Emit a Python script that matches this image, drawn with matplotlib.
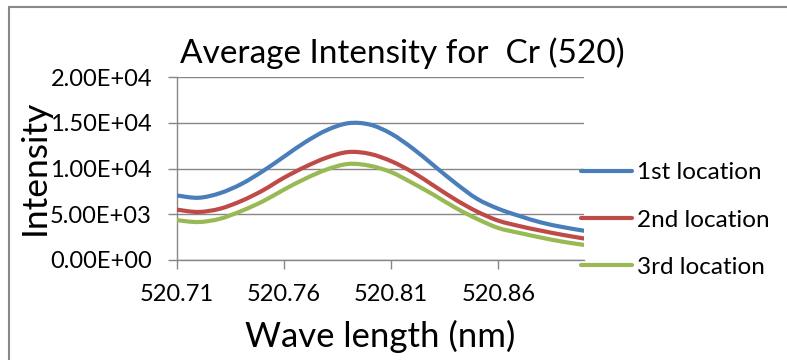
import matplotlib
matplotlib.use("Agg")
import matplotlib.pyplot as plt
from matplotlib.patches import Rectangle, PathPatch
from matplotlib.path import Path
from matplotlib.lines import Line2D

wavelength = [520.71, 520.72, 520.73, 520.74, 520.75, 520.76, 520.77, 520.78, 520.79, 520.80,
              520.81, 520.82, 520.83, 520.84, 520.85, 520.86, 520.87, 520.88, 520.89, 520.90]
loc1 = [7050, 6800, 7300, 8300, 9700, 11300, 12900, 14200, 14950, 14800,
        13800, 12200, 10300, 8400, 6700, 5600, 4800, 4100, 3600, 3200]
loc2 = [5500, 5250, 5600, 6450, 7600, 9000, 10200, 11200, 11800, 11600,
        10800, 9600, 8100, 6600, 5300, 4300, 3700, 3200, 2750, 2350]
loc3 = [4350, 4150, 4500, 5350, 6400, 7700, 8900, 9900, 10500, 10300,
        9600, 8400, 7100, 5700, 4500, 3500, 2950, 2450, 2000, 1650]
series_names = ["1st location", "2nd location", "3rd location"]
colors = ["#4A7EBB", "#BE4B48", "#98B954"]
xticks = [520.71, 520.76, 520.81, 520.86]
yticks = [0, 5000, 10000, 15000, 20000]
ytick_labels = ["0.00E+00", "5.00E+03", "1.00E+04", "1.50E+04", "2.00E+04"]

plt.rcParams['font.family'] = ['Lato', 'DejaVu Sans']


def smooth_path(xs, ys, t=1 / 6):
    """Excel-style smoothed line: cubic Bezier segments through the data points."""
    verts = [(xs[0], ys[0])]
    codes = [Path.MOVETO]
    n = len(xs)
    for i in range(n - 1):
        x0, y0 = (xs[i - 1], ys[i - 1]) if i > 0 else (xs[i], ys[i])
        x1, y1 = xs[i], ys[i]
        x2, y2 = xs[i + 1], ys[i + 1]
        x3, y3 = (xs[i + 2], ys[i + 2]) if i + 2 < n else (xs[i + 1], ys[i + 1])
        c1 = (x1 + (x2 - x0) * t, y1 + (y2 - y0) * t)
        c2 = (x2 - (x3 - x1) * t, y2 - (y3 - y1) * t)
        verts += [c1, c2, (x2, y2)]
        codes += [Path.CURVE4] * 3
    return Path(verts, codes)


W, H = 787, 360
fig = plt.figure(figsize=(W / 100, H / 100), dpi=100)
ax = fig.add_axes([177 / W, 1 - 260 / H, (584 - 177) / W, (260 - 77) / H])

handles = []
for vals, name, c in zip([loc1, loc2, loc3], series_names, colors):
    p = PathPatch(smooth_path(wavelength, vals), facecolor='none', edgecolor=c, lw=3,
                  capstyle='round', joinstyle='round', zorder=3)
    ax.add_patch(p)
    handles.append(Line2D([], [], color=c, lw=3, solid_capstyle='round', label=name))

ax.set_xlim(520.71, 520.90)
ax.set_ylim(0, 20000)
ax.set_xticks(xticks)
ax.set_xticklabels([f"{v:.2f}" for v in xticks])
ax.set_yticks(yticks)
ax.set_yticklabels(ytick_labels)
ax.grid(axis='y', color='#868686', lw=1)
ax.set_axisbelow(True)
for s in ['top', 'right']:
    ax.spines[s].set_visible(False)
for s in ['left', 'bottom']:
    ax.spines[s].set_color('#868686')
    ax.spines[s].set_linewidth(1)
ax.tick_params(axis='both', colors='#868686', length=6.5, width=1, labelcolor='black', labelsize=17)
ax.tick_params(axis='x', pad=10.5)
ax.tick_params(axis='y', pad=11.5)

fig.text(402 / W, 1 - 63 / H, "Average Intensity for  Cr (520)", ha='center', va='baseline', fontsize=24)
fig.text(35 / W, 1 - 167 / H, "Intensity", ha='center', va='center', rotation=90, fontsize=25.5)
fig.text(380 / W, 1 - 347 / H, "Wave length (nm)", ha='center', va='baseline', fontsize=25)

leg = ax.legend(handles=handles, loc='center left', bbox_to_anchor=(559 / W, 1 - 220 / H),
                bbox_transform=fig.transFigure, frameon=False, fontsize=17.5,
                handlelength=2.1, handletextpad=0.2, labelspacing=1.07)

fig.patches.append(Rectangle((9 / W, -0.1), 1.2, 1 - 7 / H + 0.1, transform=fig.transFigure,
                             fill=False, edgecolor='#888888', lw=1.5, clip_on=False))

fig.savefig("out.png", dpi=100)
